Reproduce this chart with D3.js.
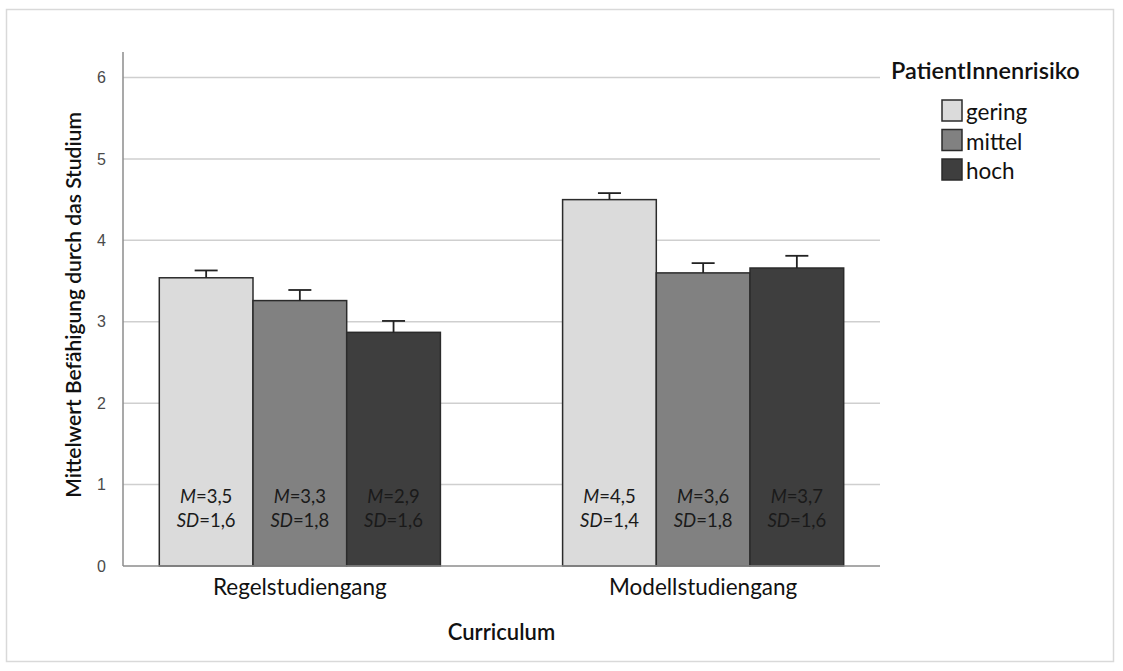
<!DOCTYPE html>
<html>
<head>
<meta charset="utf-8">
<script src="https://cdn.jsdelivr.net/npm/d3@7/dist/d3.min.js"></script>
<style>
  body { margin: 0; background: #fff; }
  svg { display: block; font-family: Lato, "Open Sans", sans-serif; }
</style>
</head>
<body>
<svg id="chart" width="1123" height="671"></svg>
<script>
// Curricula (x groups) and risk levels (bars within a group)
const curricula = ["Regelstudiengang", "Modellstudiengang"];
const risks = ["gering", "mittel", "hoch"];
const riskColors = ["#dbdbdb", "#818181", "#3e3e3e"];

// Means, standard deviations and upper error-bar ends per curriculum, in risk order
const meansRegel = [3.54, 3.26, 2.87];
const meansModell = [4.50, 3.60, 3.66];
const sdRegel = [1.6, 1.8, 1.6];
const sdModell = [1.4, 1.8, 1.6];
const errTopRegel = [3.63, 3.39, 3.01];
const errTopModell = [4.58, 3.72, 3.81];

const yTicks = [0, 1, 2, 3, 4, 5, 6];

const rows = [];
curricula.forEach((c, i) => {
  const m = i === 0 ? meansRegel : meansModell;
  const s = i === 0 ? sdRegel : sdModell;
  const e = i === 0 ? errTopRegel : errTopModell;
  risks.forEach((r, j) => rows.push({ curriculum: c, risk: r, mean: m[j], sd: s[j], errTop: e[j] }));
});

const svg = d3.select("#chart");

// outer frame
svg.append("rect").attr("x", 6.5).attr("y", 9.5).attr("width", 1107).attr("height", 652)
  .attr("fill", "none").attr("stroke", "#d9d9d9").attr("stroke-width", 1.5);

const plotLeft = 123, plotRight = 880, plotTop = 52, plotBottom = 566;

const y = d3.scaleLinear().domain([0, 6]).range([plotBottom, 77.5]);
const x0 = d3.scaleBand().domain(curricula).range([plotLeft, plotRight])
  .paddingInner(0.303).paddingOuter(0.09);
const x1 = d3.scaleBand().domain(risks).range([0, x0.bandwidth()]).padding(0);
const color = d3.scaleOrdinal().domain(risks).range(riskColors);

// gridlines
svg.append("g").selectAll("line").data(yTicks.filter(t => t > 0)).join("line")
  .attr("x1", plotLeft).attr("x2", plotRight)
  .attr("y1", d => y(d)).attr("y2", d => y(d))
  .attr("stroke", "#cfcfcf").attr("stroke-width", 1.5);

// y axis
const yAxis = d3.axisLeft(y).tickValues(yTicks).tickSize(0).tickPadding(17).tickFormat(d3.format("d"));
const gy = svg.append("g").attr("transform", `translate(${plotLeft},0)`).call(yAxis);
gy.select(".domain").remove();
gy.selectAll("text").attr("fill", "#4a4a4a")
  .attr("font-family", "'Liberation Sans', Arial, sans-serif").style("font-size", "16px");
svg.append("line").attr("x1", plotLeft).attr("x2", plotLeft).attr("y1", plotTop).attr("y2", plotBottom)
  .attr("stroke", "#8c8c8c").attr("stroke-width", 1.5);

// bars
svg.append("g").selectAll("rect").data(rows).join("rect")
  .attr("x", d => x0(d.curriculum) + x1(d.risk))
  .attr("y", d => y(d.mean))
  .attr("width", x1.bandwidth())
  .attr("height", d => y(0) - y(d.mean))
  .attr("fill", d => color(d.risk))
  .attr("stroke", "#2b2b2b").attr("stroke-width", 1.5);

// baseline
svg.append("line").attr("x1", plotLeft).attr("x2", plotRight).attr("y1", y(0)).attr("y2", y(0))
  .attr("stroke", "#8c8c8c").attr("stroke-width", 1.5);

// error bars (upper whisker with cap)
const eb = svg.append("g").attr("stroke", "#222").attr("stroke-width", 1.8);
rows.forEach(d => {
  const cx = x0(d.curriculum) + x1(d.risk) + x1.bandwidth() / 2;
  eb.append("line").attr("x1", cx).attr("x2", cx).attr("y1", y(d.mean)).attr("y2", y(d.errTop));
  eb.append("line").attr("x1", cx - 11.5).attr("x2", cx + 11.5).attr("y1", y(d.errTop)).attr("y2", y(d.errTop));
});

// M / SD labels inside bars
const fmt = v => v.toFixed(1).replace(".", ",");
const lab = svg.append("g").attr("font-size", 18.5).attr("fill", "#1a1a1a").attr("text-anchor", "middle");
rows.forEach(d => {
  const cx = x0(d.curriculum) + x1(d.risk) + x1.bandwidth() / 2;
  const t1 = lab.append("text").attr("x", cx).attr("y", 503);
  t1.append("tspan").attr("font-style", "italic").text("M");
  t1.append("tspan").text("=" + fmt(d.mean));
  const t2 = lab.append("text").attr("x", cx).attr("y", 527);
  t2.append("tspan").attr("font-style", "italic").text("SD");
  t2.append("tspan").text("=" + fmt(d.sd));
});

// x axis category labels
svg.append("g").selectAll("text").data(curricula).join("text")
  .attr("x", d => x0(d) + x0.bandwidth() / 2).attr("y", 595)
  .attr("text-anchor", "middle").attr("font-size", 22.5).attr("fill", "#111")
  .text(d => d);

// axis titles
svg.append("text").attr("x", (plotLeft + plotRight) / 2).attr("y", 640)
  .attr("text-anchor", "middle").attr("font-size", 22).attr("font-weight", 600).attr("fill", "#111")
  .text("Curriculum");
svg.append("text").attr("transform", `translate(81,305) rotate(-90)`)
  .attr("text-anchor", "middle").attr("font-size", 21).attr("font-weight", 600).attr("fill", "#111")
  .text("Mittelwert Befähigung durch das Studium");

// legend
svg.append("text").attr("x", 891).attr("y", 79).attr("font-size", 23.5).attr("font-weight", 600)
  .attr("fill", "#111").text("PatientInnenrisiko");
const lg = svg.append("g").selectAll("g").data(risks).join("g")
  .attr("transform", (d, i) => `translate(942,${100 + i * 29.5})`);
lg.append("rect").attr("width", 20).attr("height", 21)
  .attr("fill", d => color(d)).attr("stroke", "#2b2b2b").attr("stroke-width", 1.5);
lg.append("text").attr("x", 24).attr("y", 20).attr("font-size", 22.5).attr("fill", "#111").text(d => d);
</script>
</body>
</html>
